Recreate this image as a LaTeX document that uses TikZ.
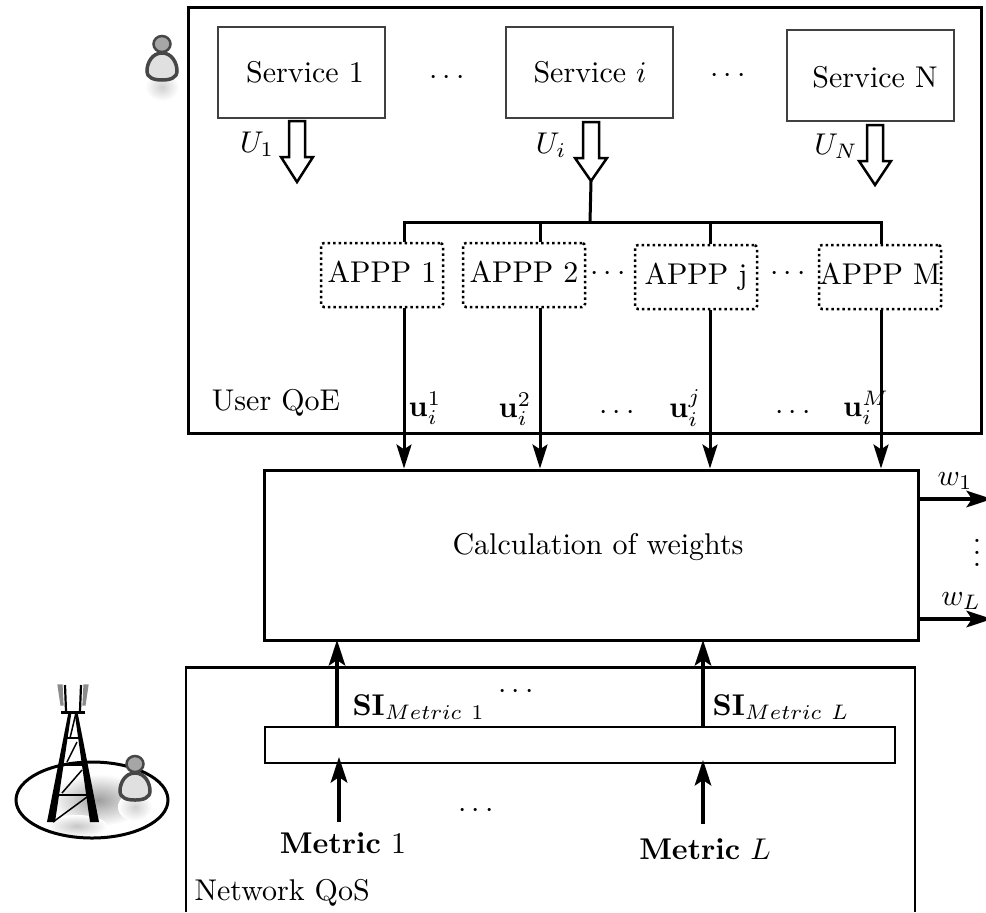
\documentclass[tikz,border=0pt]{standalone}
\usetikzlibrary{arrows.meta,shadings,shapes.geometric}
\newcommand{\pxl}{0.33333pt}
\tikzset{
  x=0.33333pt,y=-0.33333pt,
  framebox/.style={draw=black,line width=3*\pxl,rectangle,inner sep=0pt},
  thinbox/.style={draw=black!75,line width=1.5*\pxl,rectangle,inner sep=0pt},
  appbox/.style={draw=black,line width=2.5*\pxl,densely dotted,rectangle,rounded corners=1pt,inner sep=0pt,minimum width=122*\pxl,minimum height=64*\pxl,text height=6.83pt,text depth=1.94pt},
  servbox/.style={thinbox,minimum width=167*\pxl,minimum height=91*\pxl},
  flow/.style={line width=3*\pxl,-{Stealth[length=8pt,width=5pt,inset=1.6pt]}},
  flowb/.style={line width=3.5*\pxl,-{Stealth[length=8.5pt,width=5.5pt,inset=1.8pt]}},
  bus/.style={line width=3*\pxl},
  blockarrow/.style={draw=black,line width=2.5*\pxl,fill=white,line join=miter},
  lab/.style={inner sep=0pt},
}
\newcommand{\blockarr}[3]{% x centre, top y, total length
  \draw[blockarrow] (#1-8,#2) -- (#1+8,#2) -- (#1+8,#2+36) -- (#1+16,#2+36) -- (#1,#2+#3) -- (#1-16,#2+36) -- (#1-8,#2+36) -- cycle;
}
\newcommand{\personicon}[2]{% x centre, top y
  \begin{scope}[shift={(#1,#2)}]
    \shade[inner color=black!18,outer color=white,draw=none] (0,52) ellipse [x radius=17,y radius=14];
    \filldraw[draw=black!72,line width=3.5*\pxl,fill=black!12] (0,18) .. controls (-10,18) and (-15,28) .. (-15,36) .. controls (-15,43) and (-8,45) .. (0,45) .. controls (8,45) and (15,43) .. (15,36) .. controls (15,28) and (10,18) .. (0,18) -- cycle;
    \filldraw[draw=black!72,line width=2.5*\pxl,fill=black!35] (0,9) ellipse [x radius=8.5,y radius=8];
  \end{scope}
}
\begin{document}
\begin{tikzpicture}
\useasboundingbox (0,0) rectangle (986,912);
\fill[white] (0,0) rectangle (986,912);
% top frame
\node[framebox,minimum width=793*\pxl,minimum height=426*\pxl] (user) at (584.5,220) {};
\node[lab] (userlab) at (276,403) {User QoE};
% services
\node[servbox] (s1) at (301.5,72.5) {};
\node[lab] at (305,72) {Service 1};
\node[servbox] (si) at (589.5,72.5) {};
\node[lab] at (590,72) {Service $i$};
\node[servbox] (sn) at (870.5,75.5) {};
\node[lab] at (875,77) {Service N};
\node[lab] (d1) at (447,78) {$\cdots$};
\node[lab] (d2) at (728,76) {$\cdots$};
\blockarr{297}{121}{61}
\blockarr{591}{122}{59}
\blockarr{875}{125}{60}
\node[lab] (u1) at (257,144) {$U_1$};
\node[lab] (ui) at (551,145) {$U_i$};
\node[lab] (un) at (836,146) {$U_N$};
% APPP
\node[appbox] (a1) at (382,275) {APPP 1};
\node[appbox] (a2) at (524,275) {APPP 2};
\node[appbox] (aj) at (696,277) {APPP j};
\node[appbox] (am) at (880,277) {APPP M};
\node[lab] (d3) at (608,274) {$\cdots$};
\node[lab] (d4) at (788,274) {$\cdots$};
% bus
\coordinate (tipi) at (591,181);
\coordinate (busm) at (590,222);
\coordinate (bus1) at (404,222);
\coordinate (bus2) at (540,222);
\coordinate (busj) at (710,222);
\coordinate (busm2) at (881,222);
\draw[bus] (tipi) -- (busm);
\draw[bus] (a1.north -| bus1) -- (bus1) -- (busm2) -- (am.north -| busm2);
\draw[bus] (bus2) -- (a2.north -| bus2);
\draw[bus] (busj) -- (aj.north -| busj);
% calc
\node[framebox,minimum width=654*\pxl,minimum height=170*\pxl] (calc) at (591,555) {};
\node[lab] (calclab) at (598,547) {Calculation of weights};
\draw[flow] (a1.south -| bus1) -- (calc.north -| bus1);
\draw[flow] (a2.south -| bus2) -- (calc.north -| bus2);
\draw[flow] (aj.south -| busj) -- (calc.north -| busj);
\draw[flow] (am.south -| busm2) -- (calc.north -| busm2);
\node[lab] at (425,408) {$\mathbf{u}_i^1$};
\node[lab] at (515,409) {$\mathbf{u}_i^2$};
\node[lab] at (617,413) {$\cdots$};
\node[lab] at (685,408) {$\mathbf{u}_i^j$};
\node[lab] at (793,413) {$\cdots$};
\node[lab] at (866,408) {$\mathbf{u}_i^M$};
% outputs
\coordinate (w1e) at (992,499);
\coordinate (w2e) at (992,619);
\draw[flowb] (calc.east |- w1e) -- (w1e);
\draw[flowb] (calc.east |- w2e) -- (w2e);
\node[lab] at (955,481) {$w_1$};
\node[lab] at (961,601) {$w_L$};
\node[lab] at (977,544) {$\vdots$};
% network
\draw[line width=2.5*\pxl] (186,912) -- (186,667.5) -- (915,667.5) -- (915,912);
\node[framebox,line width=2.5*\pxl,minimum width=630*\pxl,minimum height=36*\pxl] (bar) at (580,745) {};
\coordinate (si1) at (337,640);
\coordinate (siL) at (703,640);
\draw[flowb] (bar.north -| si1) -- (si1);
\draw[flowb] (bar.north -| siL) -- (siL);
\node[lab,anchor=west] at (352,707) {$\mathbf{SI}_{Metric\ 1}$};
\node[lab,anchor=west] at (712,707) {$\mathbf{SI}_{Metric\ L}$};
\node[lab] at (516,692) {$\cdots$};
\node[lab] (m1) at (343,843) {$\mathbf{Metric}\ 1$};
\node[lab] (mL) at (705,849) {$\mathbf{Metric}\ L$};
\coordinate (m1s) at (339,822);
\coordinate (m1t) at (339,757);
\coordinate (mLs) at (703,824);
\coordinate (mLt) at (703,760);
\draw[flowb,line width=4*\pxl] (m1s) -- (m1t);
\draw[flowb] (mLs) -- (mLt);
\node[lab] at (476,811) {$\cdots$};
\node[lab,anchor=west] (netlab) at (194,893) {Network QoS};
% user icon
\personicon{162}{35}
% tower scene
\begin{scope}
\clip (92,800) ellipse [x radius=76,y radius=38];
\shade[inner color=black!38,outer color=white] (98,800) ellipse [x radius=48,y radius=26];
\shade[inner color=black!22,outer color=white] (77,826) ellipse [x radius=30,y radius=11];
\end{scope}
\node[draw=black,line width=3*\pxl,ellipse,minimum width=152*\pxl,minimum height=76*\pxl,inner sep=0pt] (cell) at (92,800) {};
\personicon{135}{755}
% tower
\begin{scope}[line cap=butt]
\fill (47,822) -- (68.5,712) -- (71.5,712) -- (55,822) -- cycle;
\fill (99,822) -- (77.5,712) -- (74.5,712) -- (90,822) -- cycle;
\draw[line width=3*\pxl] (61,712) -- (85,712);
\draw[line width=2*\pxl] (63,765) -- (83,765);
\draw[line width=2*\pxl] (57,795) -- (88,795);
\draw[line width=2*\pxl] (67,738) -- (79,738);
\draw[line width=1.5*\pxl] (53,822) -- (87,797);
\draw[line width=1.5*\pxl] (62,793) -- (82,770);
\draw[line width=1.5*\pxl] (67,762) -- (77,742);
\draw[line width=1.5*\pxl] (70,738) -- (76,713);
\filldraw[draw=black!45,fill=black!45] (58,685) -- (62,685) -- (63,705) -- (61,705) -- cycle;
\filldraw[draw=black!45,fill=black!45] (88,685) -- (84,685) -- (83,705) -- (85,705) -- cycle;
\draw[line width=2.2*\pxl] (65,685) -- (66,711);
\draw[line width=2.2*\pxl] (81,685) -- (80,711);
\end{scope}
\end{tikzpicture}
\end{document}
